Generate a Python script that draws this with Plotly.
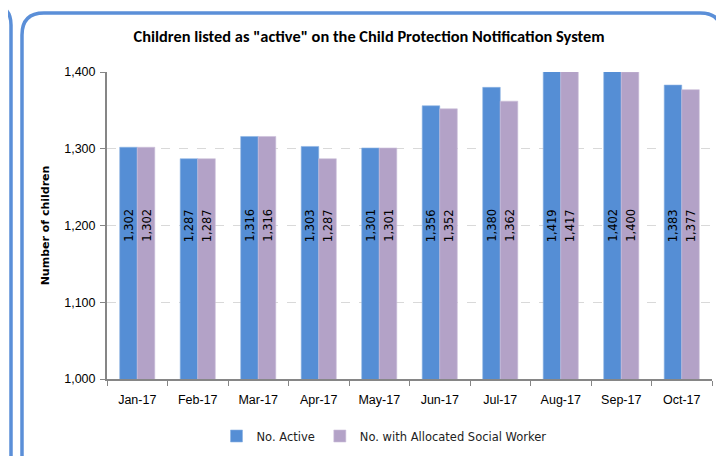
"""Children listed as active on the CPNS - grouped bar chart."""

import plotly.graph_objects as go

months = ["Jan-17", "Feb-17", "Mar-17", "Apr-17", "May-17",
          "Jun-17", "Jul-17", "Aug-17", "Sep-17", "Oct-17"]
active = [1302, 1287, 1316, 1303, 1301, 1356, 1380, 1419, 1402, 1383]
allocated = [1302, 1287, 1316, 1287, 1301, 1352, 1362, 1417, 1400, 1377]
y_ticks = [1000, 1100, 1200, 1300, 1400]

BLUE = "#558ED5"
PURPLE = "#B3A2C7"
BORDER = "#5B8FD8"
W, H = 724, 456
OFF = 8  # page body margin offsets the figure by this much
ML, MT = 107 - OFF, 72 - OFF
MR, MB = W - (712 - OFF), H - (379 - OFF)
PW, PH = W - ML - MR, H - MT - MB


def px(x, y):
    """screen pixel position (as in the reference) -> paper coordinates"""
    return (x - OFF - ML) / PW, (H - MB - (y - OFF)) / PH


def rounded_box(x0, y0, x1, y1, r):
    pts = [
        ("M", [(x0 + r, y0)]),
        ("L", [(x1 - r, y0)]),
        ("Q", [(x1, y0), (x1, y0 + r)]),
        ("L", [(x1, y1 - r)]),
        ("Q", [(x1, y1), (x1 - r, y1)]),
        ("L", [(x0 + r, y1)]),
        ("Q", [(x0, y1), (x0, y1 - r)]),
        ("L", [(x0, y0 + r)]),
        ("Q", [(x0, y0), (x0 + r, y0)]),
    ]
    path = ""
    for cmd, coords in pts:
        path += cmd + " " + " ".join("%.5f,%.5f" % px(*c) for c in coords) + " "
    return path + "Z"


fig = go.Figure()

fig.add_trace(go.Bar(
    x=months, y=active, name="No. Active",
    marker=dict(color=BLUE, line=dict(color="#8DB3E2", width=0.6)),
))
fig.add_trace(go.Bar(
    x=months, y=allocated, name="No. with Allocated Social Worker",
    marker=dict(color=PURPLE, line=dict(color="#CCC0DA", width=0.6)),
))

# value labels, rotated, at a common level inside the bars
label_level = 1200
for series, shift in ((active, -9), (allocated, 9)):
    for m, v in zip(months, series):
        fig.add_annotation(
            x=m, y=label_level, text=f"{v:,}", textangle=-90,
            showarrow=False, xshift=shift,
            font=dict(family="DejaVu Sans", size=11.5, color="#000000"),
        )

# rounded panel borders
fig.add_shape(type="path", xref="paper", yref="paper",
              path=rounded_box(22, 13, 722, 480, 22),
              line=dict(color=BORDER, width=3.5))
fig.add_shape(type="path", xref="paper", yref="paper",
              path=rounded_box(-300, 5, 11, 480, 20),
              line=dict(color=BORDER, width=3.5))

lx, ly = px(384, 436)

fig.update_layout(
    width=W, height=H,
    margin=dict(l=ML, r=MR, t=MT, b=MB, autoexpand=False),
    paper_bgcolor="white", plot_bgcolor="white",
    barmode="group", bargap=0.42, bargroupgap=0,
    font=dict(family="Liberation Sans, Arial", size=12, color="#000000"),
    title=dict(
        text='Children listed as "active" on the Child Protection Notification System',
        x=(369 - OFF) / W, xanchor="center", xref="container",
        y=1 - (36 - OFF) / H, yanchor="middle", yref="container",
        font=dict(family="Liberation Sans Narrow, Carlito, Arial", size=16.4,
                  color="#000000", weight="bold"),
    ),
    legend=dict(
        orientation="h", x=lx, xanchor="center",
        y=ly, yanchor="middle",
        font=dict(family="DejaVu Sans", size=11.5, color="#222222"),
        itemwidth=30, tracegroupgap=0,
    ),
    showlegend=True,
)

fig.update_xaxes(
    automargin=False,
    showline=True, linecolor="#868686", linewidth=2,
    ticks="outside", tickson="boundaries", ticklen=5, tickcolor="#868686",
    tickfont=dict(family="Liberation Sans", size=12.5),
    ticklabelstandoff=8,
    showgrid=False,
)
fig.update_yaxes(
    automargin=False,
    range=[1000, 1400], tickvals=y_ticks, tickformat=",",
    showline=True, linecolor="#868686", linewidth=2,
    ticks="outside", ticklen=5, tickcolor="#868686",
    tickfont=dict(family="Liberation Sans", size=12.5),
    ticklabelstandoff=2,
    showgrid=True, gridcolor="#D9D9D9", griddash="dash", gridwidth=1,
    zeroline=False,
    title=dict(text="<b>Number of children</b>", standoff=12,
               font=dict(family="DejaVu Sans", size=11)),
)

fig.write_html("out.html")
